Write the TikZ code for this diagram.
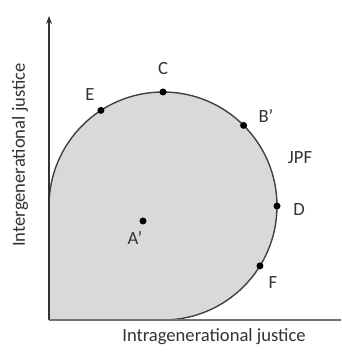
\documentclass[tikz,border=0pt]{standalone}
\usepackage{fontspec}
\setmainfont{Carlito}
\usetikzlibrary{arrows.meta,calc}
\begin{document}
\begin{tikzpicture}[x=1pt,y=1pt,
  lbl/.style={font=\fontsize{18.6}{20}\selectfont, text=black!80, inner sep=0pt},
  dotpt/.style={circle, fill=black, inner sep=0pt, minimum size=7pt},
  axis/.style={draw=black!80, line width=1.1pt},
  outline/.style={draw=black!75, line width=1.4pt}]
\useasboundingbox (0,0) rectangle (341,353);
\coordinate (O) at (49,33);
\coordinate (M) at (163,147);
\coordinate (ytop) at (49,337);
\coordinate (xend) at (341,33);
% region
\fill[black!15] (O) -- (49,147) arc[start angle=180, end angle=-90, radius=114] -- cycle;
\draw[outline] (49,147) arc[start angle=180, end angle=-90, radius=114];
% axes
\draw[axis, -{Stealth[length=8pt,width=6pt]}] (O) -- (ytop);
\draw[draw=black!55, line width=1.2pt] (O) -- (xend);
% points
\node[dotpt] (E) at ($(M)+(123:114)$) {};
\node[dotpt] (C) at ($(M)+(90:114)$) {};
\node[dotpt] (B) at ($(M)+(45:114)$) {};
\node[dotpt] (D) at ($(M)+(0:114)$) {};
\node[dotpt] (F) at ($(M)+(-31.7:114)$) {};
\node[dotpt] (A) at (143,132) {};
% labels
\node[lbl] (lE) at (90,258) {E};
\node[lbl] (lC) at (163,284) {C};
\node[lbl] (lB) at (266,237) {B’};
\node[lbl] (lJ) at (300,195) {JPF};
\node[lbl] (lD) at (299,143) {D};
\node[lbl] (lF) at (273,70) {F};
\node[lbl] (lA) at (135,115) {A’};
\node[lbl, rotate=90] (ylab) at (20,198) {Intergenerational justice};
\node[lbl] (xlab) at (214,16) {Intragenerational justice};
\end{tikzpicture}
\end{document}
